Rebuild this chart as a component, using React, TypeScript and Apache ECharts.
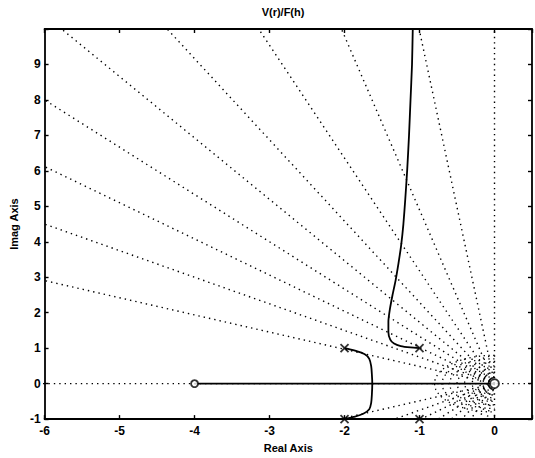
import { useEffect, useRef } from "react";
import * as echarts from "echarts";

const chartTitle = "V(r)/F(h)";
const xAxisName = "Real Axis";
const yAxisName = "Imag Axis";
const xTicks = [-6, -5, -4, -3, -2, -1, 0];
const yTicks = [-1, 0, 1, 2, 3, 4, 5, 6, 7, 8, 9];

// open-loop poles (x) and zeros (o)
const poles = [
  [-1, 1],
  [-2, 1],
  [-1, -1],
  [-2, -1],
];
const zeros = [
  [-4, 0],
  [0, 0],
];

// root-locus branches
const branchFromUpperPole = [
  [-1.0, 1.0], [-1.12, 1.02], [-1.25, 1.06], [-1.34, 1.13], [-1.39, 1.24],
  [-1.415, 1.45], [-1.415, 1.75], [-1.395, 2.1], [-1.36, 2.5], [-1.32, 2.9],
  [-1.28, 3.4], [-1.245, 3.9], [-1.215, 4.5], [-1.19, 5.2], [-1.165, 6.0],
  [-1.14, 7.0], [-1.12, 8.0], [-1.1, 9.0], [-1.09, 10.0],
];
const branchLeftPair = [
  [-2.0, 1.0], [-1.86, 0.93], [-1.73, 0.83], [-1.67, 0.7], [-1.645, 0.5],
  [-1.635, 0.25], [-1.63, 0.0], [-1.635, -0.3], [-1.645, -0.55], [-1.67, -0.72],
  [-1.75, -0.85], [-1.88, -0.94], [-2.0, -1.0],
];
const branchRealAxis = [
  [-4, 0],
  [0, 0],
];

// s-plane grid (sgrid): damping ratios and natural frequencies
const dampingRatios = [0, 0.1, 0.2, 0.3, 0.4, 0.5, 0.6, 0.7, 0.8, 0.9, 1.0];
const naturalFreqs = [0.1, 0.2, 0.3, 0.4, 0.5, 0.6, 0.7, 0.8];

const FONT = "'Liberation Sans', Arial, Helvetica, sans-serif";

export default function App() {
  const ref = useRef<HTMLDivElement>(null);

  useEffect(() => {
    if (!ref.current) return;
    const chart = echarts.init(ref.current, undefined, { renderer: "svg" });

    const gridStyle = { color: "#000", width: 1.4, type: [1.4, 4] as number[] };
    const gridSeries: any[] = [];
    const R = 30;
    dampingRatios.forEach((z) => {
      const s = Math.sqrt(1 - z * z);
      const lines =
        z === 1
          ? [[[-R, 0], [R, 0]]]
          : z === 0
          ? [[[0, -R], [0, R]]]
          : [
              [[0, 0], [-R * z, R * s]],
              [[0, 0], [-R * z, -R * s]],
            ];
      lines.forEach((d) =>
        gridSeries.push({
          type: "line",
          data: d,
          symbol: "none",
          silent: true,
          lineStyle: gridStyle,
          z: 1,
        })
      );
    });
    naturalFreqs.forEach((wn) => {
      const pts: number[][] = [];
      for (let i = 0; i <= 48; i++) {
        const a = Math.PI / 2 + (Math.PI * i) / 48;
        pts.push([wn * Math.cos(a), wn * Math.sin(a)]);
      }
      gridSeries.push({
        type: "line",
        data: pts,
        symbol: "none",
        silent: true,
        lineStyle: { color: "#000", width: 1.3, type: [1.3, 3.5] },
        z: 1,
      });
    });

    const locusStyle = { color: "#000", width: 1.8 };

    const axisCommon = {
      type: "value",
      splitLine: { show: false },
      axisLine: { onZero: false, lineStyle: { color: "#000", width: 1.8 } },
      axisTick: { inside: true, length: 4, lineStyle: { color: "#000", width: 1.4 } },
    };

    const labelStyle = {
      color: "#000",
      fontSize: 12,
      fontWeight: "bold",
      fontFamily: FONT,
    };

    chart.setOption({
      animation: false,
      backgroundColor: "#fff",
      grid: { left: 38, right: 3, top: 29, bottom: 33, containLabel: false },
      graphic: [
        {
          type: "text",
          x: 283,
          y: 12,
          style: {
            text: chartTitle,
            textAlign: "center",
            textVerticalAlign: "middle",
            fill: "#000",
            fontSize: 11,
            fontWeight: "bold",
            fontFamily: FONT,
          },
        },
      ],
      xAxis: [
        {
          ...axisCommon,
          position: "bottom",
          min: -6,
          max: 0.5,
          interval: 1,
          name: xAxisName,
          nameLocation: "middle",
          nameGap: 19,
          nameTextStyle: { color: "#000", fontSize: 11, fontWeight: "bold", fontFamily: FONT },
          axisLabel: {
            ...labelStyle,
            margin: 6,
            formatter: (v: number) => (xTicks.includes(v) ? String(v) : ""),
          },
        },
        {
          ...axisCommon,
          position: "top",
          min: -6,
          max: 0.5,
          interval: 1,
          axisLabel: { show: false },
        },
      ],
      yAxis: [
        {
          ...axisCommon,
          position: "left",
          min: -1,
          max: 10,
          interval: 1,
          name: yAxisName,
          nameLocation: "middle",
          nameGap: 22,
          nameTextStyle: { color: "#000", fontSize: 11, fontWeight: "bold", fontFamily: FONT },
          axisLabel: {
            ...labelStyle,
            margin: 4,
            formatter: (v: number) => (yTicks.includes(v) ? String(v) : ""),
          },
        },
        {
          ...axisCommon,
          position: "right",
          min: -1,
          max: 10,
          interval: 1,
          axisLabel: { show: false },
        },
      ],
      series: [
        ...gridSeries,
        {
          type: "line",
          data: branchRealAxis,
          symbol: "none",
          silent: true,
          lineStyle: locusStyle,
          z: 3,
        },
        {
          type: "line",
          data: branchFromUpperPole,
          symbol: "none",
          smooth: 0.2,
          silent: true,
          lineStyle: locusStyle,
          z: 3,
        },
        {
          type: "line",
          data: branchLeftPair,
          symbol: "none",
          smooth: 0.3,
          silent: true,
          lineStyle: locusStyle,
          z: 3,
        },
        {
          type: "scatter",
          data: poles,
          symbol: "path://M0,0L10,10M10,0L0,10",
          symbolSize: 8,
          silent: true,
          clip: false,
          itemStyle: { color: "none", borderColor: "#000", borderWidth: 1.8 },
          z: 4,
        },
        {
          type: "scatter",
          data: zeros,
          symbol: "circle",
          symbolSize: (v: number[]) => (v[0] === 0 ? 9 : 7),
          silent: true,
          clip: false,
          itemStyle: { color: "#fff", borderColor: "#000", borderWidth: 1.8 },
          z: 4,
        },
      ],
    });

    return () => chart.dispose();
  }, []);

  return (
    <div
      ref={ref}
      style={{ position: "absolute", left: 0, top: 0, width: 535, height: 458 }}
    />
  );
}
